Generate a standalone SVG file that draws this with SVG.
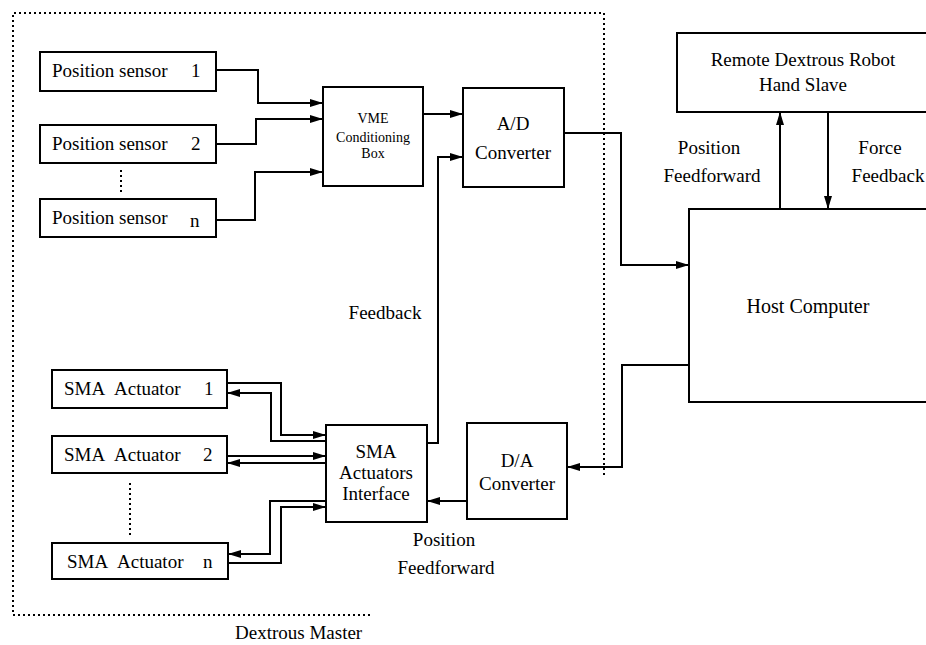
<svg xmlns="http://www.w3.org/2000/svg" width="926" height="645" viewBox="0 0 926 645">
<style>
.box{fill:#fff;stroke:#000;stroke-width:2}
.ln{fill:none;stroke:#000;stroke-width:2}
.arr{marker-end:url(#ah)}
.dot{fill:none;stroke:#000;stroke-width:2;stroke-dasharray:2 3}
text{font-family:"Liberation Serif","Times New Roman",serif;fill:#000}
.t19{font-size:19px}
.t14{font-size:14px}
.m{text-anchor:middle}
</style>
<defs>
<marker id="ah" markerUnits="userSpaceOnUse" markerWidth="14" markerHeight="10" refX="13" refY="4" orient="auto">
<path d="M0,0 L13,4 L0,8 z" fill="#000"/>
</marker>
</defs>
<rect width="926" height="645" fill="#fff"/>

<g id="dextrous-master">
<path class="dot" d="M604,475 L604,13 L13,13 L13,615 L372,615"/>
<text class="t19" x="235" y="639">Dextrous Master</text>
</g>

<g id="sensor1"><rect class="box" x="40" y="52" width="176" height="39"/><text class="t19" x="52" y="77">Position sensor<tspan x="191">1</tspan></text></g>
<g id="sensor2"><rect class="box" x="40" y="125" width="176" height="38"/><text class="t19" x="52" y="150">Position sensor<tspan x="191">2</tspan></text></g>
<g id="sensor-dots"><path class="dot" d="M121,170 V194"/></g>
<g id="sensorn"><rect class="box" x="40" y="199" width="176" height="38"/><text class="t19" x="52" y="224">Position sensor<tspan x="190" y="227">n</tspan></text></g>

<g id="vme"><rect class="box" x="323" y="87" width="100" height="99"/>
<text class="t14 m" x="373" y="123">VME</text><text class="t14 m" x="373" y="142">Conditioning</text><text class="t14 m" x="373" y="158">Box</text></g>

<g id="ad"><rect class="box" x="463" y="88" width="101" height="99"/>
<text class="t19 m" x="513" y="130">A/D</text><text class="t19 m" x="513" y="159">Converter</text></g>

<g id="remote"><rect class="box" x="677" y="33" width="260" height="79"/>
<text class="t19 m" x="803" y="66">Remote Dextrous Robot</text><text class="t19 m" x="803" y="91">Hand Slave</text></g>

<g id="host"><rect class="box" x="689" y="209" width="260" height="193"/>
<text class="m" style="font-size:20px" x="808" y="313">Host Computer</text></g>

<g id="da"><rect class="box" x="467" y="423" width="100" height="96"/>
<text class="t19 m" x="517" y="467">D/A</text><text class="t19 m" x="517" y="490">Converter</text></g>

<g id="sma-interface"><rect class="box" x="326" y="425" width="101" height="97"/>
<text class="t19 m" x="376" y="458">SMA</text><text class="t19 m" x="376" y="479">Actuators</text><text class="t19 m" x="376" y="500">Interface</text></g>

<g id="act1"><rect class="box" x="52" y="370" width="175" height="38"/><text class="t19" x="64" y="395">SMA<tspan x="114">Actuator</tspan><tspan x="204">1</tspan></text></g>
<g id="act2"><rect class="box" x="52" y="436" width="175" height="37"/><text class="t19" x="64" y="461">SMA<tspan x="114">Actuator</tspan><tspan x="203">2</tspan></text></g>
<g id="act-dots"><path class="dot" d="M130,483 V535"/></g>
<g id="actn"><rect class="box" x="52" y="543" width="176" height="36"/><text class="t19" x="67" y="568">SMA<tspan x="117">Actuator</tspan><tspan x="203">n</tspan></text></g>

<g id="labels">
<text class="t19 m" x="385" y="319">Feedback</text>
<text class="t19 m" x="709" y="154">Position</text>
<text class="t19 m" x="712" y="182">Feedforward</text>
<text class="t19 m" x="880" y="154">Force</text>
<text class="t19 m" x="888" y="182">Feedback</text>
<text class="t19 m" x="444" y="546">Position</text>
<text class="t19 m" x="446" y="574">Feedforward</text>
</g>

<g id="connectors">
<path class="ln arr" d="M216,70 H258 V103 H323"/>
<path class="ln arr" d="M216,144 H256 V119 H323"/>
<path class="ln arr" d="M216,220 H255 V172 H323"/>
<path class="ln arr" d="M423,114 H463"/>
<path class="ln arr" d="M427,443 H438 V157 H463"/>
<path class="ln arr" d="M564,133 H621 V265 H689"/>
<path class="ln arr" d="M689,365 H622 V467 H567"/>
<path class="ln arr" d="M467,501 H427"/>
<path class="ln arr" d="M780,209 V112"/>
<path class="ln arr" d="M828,112 V209"/>
<path class="ln arr" d="M227,383 H281 V435 H326"/>
<path class="ln arr" d="M326,441 H271 V393 H227"/>
<path class="ln arr" d="M227,456 H326"/>
<path class="ln arr" d="M326,463 H227"/>
<path class="ln arr" d="M326,501 H270 V554 H228"/>
<path class="ln arr" d="M228,563 H281 V507 H326"/>
</g>
</svg>
